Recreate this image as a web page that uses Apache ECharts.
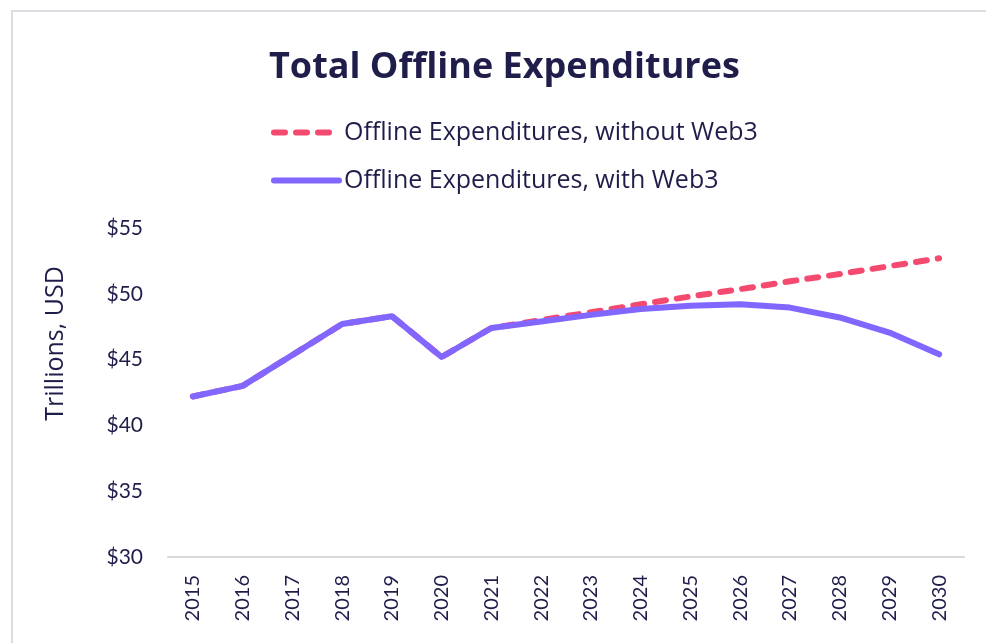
<!DOCTYPE html>
<html>
<head>
<meta charset="utf-8">
<script src="https://cdn.jsdelivr.net/npm/echarts@6/dist/echarts.min.js"></script>
<style>
  html, body { margin: 0; padding: 0; background: #ffffff; }
  #chart { width: 986px; height: 643px; }
</style>
</head>
<body>
<div id="chart"></div>
<script>
// Years on the category axis
const years = ['2015', '2016', '2017', '2018', '2019', '2020', '2021', '2022',
               '2023', '2024', '2025', '2026', '2027', '2028', '2029', '2030'];

// Trillions of USD
const withoutWeb3 = [42.2, 43.0, 45.35, 47.7, 48.3, 45.2, 47.4, 48.0,
                     48.6, 49.2, 49.8, 50.35, 50.95, 51.5, 52.1, 52.7];
const withWeb3 = [42.2, 43.0, 45.35, 47.7, 48.3, 45.2, 47.4, 47.9,
                  48.4, 48.85, 49.1, 49.2, 48.95, 48.2, 47.05, 45.4];

// Y-axis range and tick step
const yMin = 30;
const yMax = 55;
const yStep = 5;

const INK = '#1f1d4a';
const FONT = 'Lato, "Open Sans", sans-serif';
const WIDE = '"Open Sans", Lato, sans-serif';

const chart = echarts.init(document.getElementById('chart'), null, { renderer: 'canvas' });

chart.setOption({
  backgroundColor: '#ffffff',
  animation: false,
  graphic: [{
    type: 'rect',
    shape: { x: 12, y: 11, width: 1100, height: 800 },
    style: { fill: 'none', stroke: '#dcdce3', lineWidth: 2 },
    silent: true
  }],
  title: {
    text: 'Total Offline Expenditures',
    left: 264,
    top: 45,
    textStyle: { fontFamily: WIDE, fontWeight: 'bold', fontSize: 36, color: INK }
  },
  legend: {
    orient: 'vertical',
    left: 266,
    top: 115,
    itemWidth: 65,
    itemHeight: 24,
    itemGap: 23,
    itemStyle: { opacity: 0 },
    lineStyle: { width: 6, cap: 'round' },
    textStyle: { fontFamily: WIDE, fontSize: 25, lineHeight: 24, color: INK, padding: [0, 0, 0, 0] },
    data: ['Offline Expenditures, without Web3', 'Offline Expenditures, with Web3']
  },
  grid: { left: 168, right: 22, top: 228, bottom: 86 },
  xAxis: {
    type: 'category',
    data: years,
    boundaryGap: true,
    axisLine: { lineStyle: { color: '#d9d9d9', width: 2 } },
    axisTick: { show: false },
    axisLabel: {
      rotate: 90,
      margin: 18,
      fontFamily: FONT,
      fontSize: 20,
      color: INK
    }
  },
  yAxis: {
    type: 'value',
    min: yMin,
    max: yMax,
    interval: yStep,
    name: 'Trillions, USD',
    nameLocation: 'middle',
    nameGap: 100,
    nameTextStyle: { fontFamily: WIDE, fontSize: 25, color: INK, padding: [0, 0, 0, 98] },
    axisLine: { show: false },
    axisTick: { show: false },
    splitLine: { show: false },
    axisLabel: {
      margin: 25,
      fontFamily: FONT,
      fontSize: 21,
      color: INK,
      formatter: v => '$' + v
    }
  },
  series: [
    {
      name: 'Offline Expenditures, without Web3',
      type: 'line',
      data: withoutWeb3,
      symbol: 'none',
      z: 2,
      color: '#f44a70',
      lineStyle: { color: '#f44a70', width: 6, type: [11, 11], cap: 'round', join: 'round' }
    },
    {
      name: 'Offline Expenditures, with Web3',
      type: 'line',
      data: withWeb3,
      symbol: 'none',
      z: 3,
      color: '#8166ff',
      lineStyle: { color: '#8166ff', width: 6, cap: 'round', join: 'round' }
    }
  ]
});
</script>
</body>
</html>
